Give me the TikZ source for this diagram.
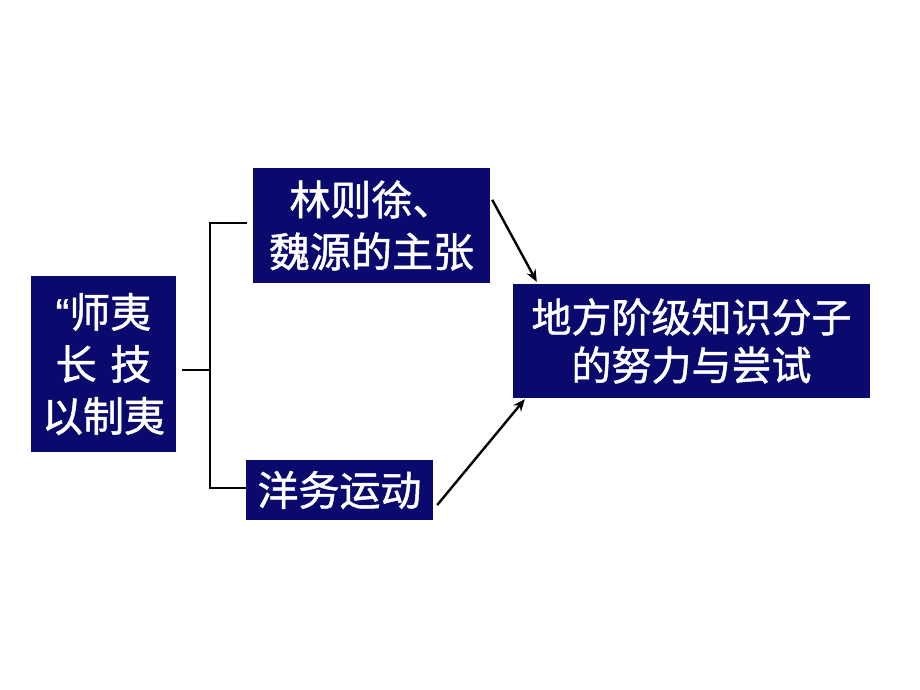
\documentclass[tikz,border=0pt]{standalone}
\usepackage{fontspec}
\newfontfamily\cjk[FakeBold=1.2]{Noto Sans CJK SC}
\newfontfamily\lat[FakeBold=1.2]{Liberation Sans}
\usetikzlibrary{arrows.meta,calc}
\definecolor{navy}{RGB}{10,10,110}
\begin{document}
\begin{tikzpicture}[x=1pt,y=-1pt,
  box/.style={fill=navy,draw=none,text=white,inner sep=0pt,align=center,
    font=\cjk\fontsize{41}{52}\selectfont},
  conn/.style={line width=2.8pt,black},
  arr/.style={line width=2.4pt,black,-{Stealth[length=12pt,width=10pt]}}]
\useasboundingbox (0,0) rectangle (920,690);
\node[box,minimum width=145pt,minimum height=176pt] (L) at (103.5,364) {{\lat “}师夷\\长\,\,技\\以制夷};
\node[box,minimum width=237pt,minimum height=115pt] (T) at (371.5,225.5) {林则徐、\\魏源的主张};
\node[box,minimum width=187pt,minimum height=60pt] (B) at (339.5,490) {洋务运动};
\node[box,minimum width=357pt,minimum height=114pt,font=\cjk\fontsize{40}{48}\selectfont] (R) at (691.5,341) {地方阶级知识分子\\的努力与尝试};
\coordinate (bt) at (210,223);
\coordinate (bm) at (210,370);
\coordinate (bb) at (210,488);
\coordinate (tt) at (247,223);
\draw[conn] ($(L.east)+(6,6)$) -- (bm);
\draw[conn] (tt) -- (bt) -- (bb) -- (B.west |- bb);
\draw[arr] ($(T.north east)+(2,32)$) -- ($(R.north west)+(24,-2)$);
\draw[arr] ($(B.east)+(4,15)$) -- ($(R.south west)+(12,1)$);
\end{tikzpicture}
\end{document}
